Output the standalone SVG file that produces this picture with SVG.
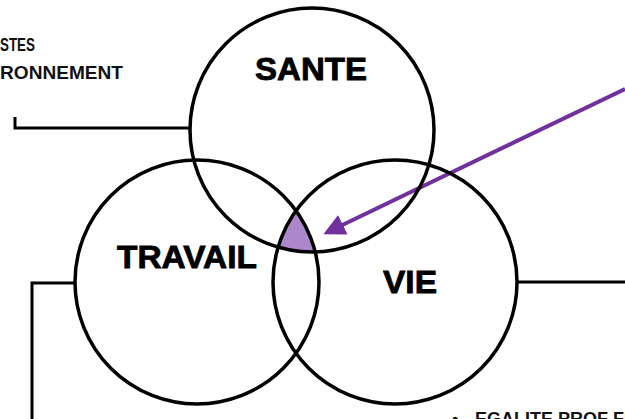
<svg xmlns="http://www.w3.org/2000/svg" width="625" height="419" viewBox="0 0 625 419">
<style>
.c{fill:none;stroke:#000;stroke-width:3.5}
.l{fill:none;stroke:#000;stroke-width:3}
.big{font-family:"Liberation Sans",Arial,sans-serif;font-weight:bold;font-size:31px;fill:#000;stroke:#000;stroke-width:0.8;text-anchor:middle}
.sm{font-family:"Liberation Sans",Arial,sans-serif;font-weight:bold;font-size:18px;fill:#111}
</style>
<defs>
<clipPath id="cT"><circle cx="197" cy="282" r="122"/></clipPath>
<clipPath id="cV"><circle cx="395" cy="282" r="122"/></clipPath>
<marker id="ah" markerWidth="6" markerHeight="6" refX="3" refY="3" orient="auto" markerUnits="strokeWidth"><path d="M0,0.3 L5.4,3 L0,5.7 Z" fill="#7030A0"/></marker>
</defs>
<g id="lens">
<g clip-path="url(#cT)"><g clip-path="url(#cV)"><circle cx="312" cy="130" r="122" fill="#AE86CB"/></g></g>
</g>
<g id="connectors">
<polyline class="l" points="15,117 15,128 190,128"/>
<polyline class="l" points="32,419 32,283 75,283"/>
<line class="l" x1="517" y1="282" x2="625" y2="282"/>
<line x1="625" y1="89" x2="332" y2="230" stroke="#7030A0" stroke-width="4" marker-end="url(#ah)"/>
</g>
<g id="sante"><circle class="c" cx="312" cy="130" r="122"/><text class="big" x="311" y="80" textLength="112" lengthAdjust="spacingAndGlyphs">SANTE</text></g>
<g id="travail"><circle class="c" cx="197" cy="282" r="122"/><text class="big" x="187" y="268" textLength="140" lengthAdjust="spacingAndGlyphs">TRAVAIL</text></g>
<g id="vie"><circle class="c" cx="395" cy="282" r="122"/><text class="big" x="410" y="293" textLength="54" lengthAdjust="spacingAndGlyphs">VIE</text></g>
<g id="texts">
<text class="sm" x="0" y="51" textLength="35" lengthAdjust="spacingAndGlyphs">STES</text>
<text class="sm" x="0" y="79" textLength="123" lengthAdjust="spacingAndGlyphs">RONNEMENT</text>
<text class="sm" x="452" y="425">•</text>
<text class="sm" x="475" y="425">EGALITE PROF FE</text>
</g>
</svg>
